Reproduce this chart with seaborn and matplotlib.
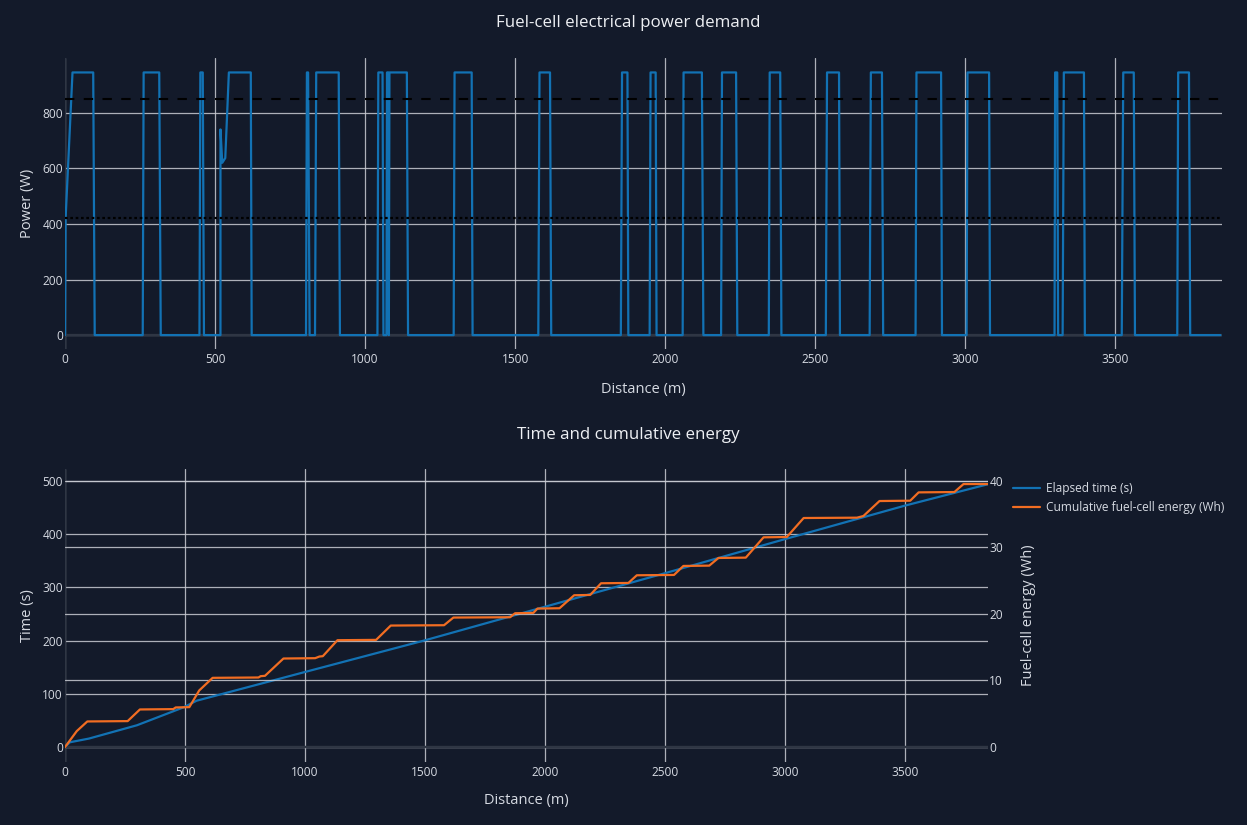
import matplotlib
matplotlib.use("Agg")
import matplotlib.pyplot as plt
from matplotlib.lines import Line2D
import seaborn as sns

# ---- data ----
# power demand trace (distance m, power W)
power_dist = [0, 2, 25, 94, 99,
              259, 262, 314, 319,
              448, 451, 459, 463,
              518, 518, 524, 534, 546, 619, 622,
              803, 806, 810, 815,
              833, 837, 912, 916,
              1041, 1044, 1058, 1061,
              1071, 1073, 1075, 1077, 1079, 1081, 1139, 1143,
              1295, 1298, 1355, 1358,
              1577, 1581, 1616, 1620,
              1852, 1856, 1874, 1877,
              1948, 1951, 1968, 1971,
              2058, 2061, 2122, 2127,
              2186, 2189, 2236, 2240,
              2345, 2348, 2383, 2387,
              2535, 2539, 2579, 2582,
              2681, 2685, 2722, 2726,
              2834, 2837, 2919, 2922,
              3004, 3007, 3079, 3082,
              3297, 3299, 3306, 3309,
              3324, 3328, 3395, 3398,
              3521, 3526, 3561, 3565,
              3706, 3709, 3745, 3749,
              3850]
power_w = [0, 420, 945, 945, 0,
           0, 945, 945, 0,
           0, 945, 945, 0,
           0, 740, 620, 637, 945, 945, 0,
           0, 945, 945, 0,
           0, 945, 945, 0,
           0, 945, 945, 0,
           0, 945, 390, 945, 0, 945, 945, 0,
           0, 945, 945, 0,
           0, 945, 945, 0,
           0, 945, 945, 0,
           0, 945, 945, 0,
           0, 945, 945, 0,
           0, 945, 945, 0,
           0, 945, 945, 0,
           0, 945, 945, 0,
           0, 945, 945, 0,
           0, 945, 945, 0,
           0, 945, 945, 0,
           0, 945, 945, 0,
           0, 945, 945, 0,
           0, 945, 945, 0,
           0, 945, 945, 0,
           0]
upper_limit_w = 850
lower_limit_w = 420

# elapsed time (distance m, time s)
time_dist = [0, 20, 100, 300, 496, 548, 1000, 1496, 1996, 2496, 2996, 3497, 3850]
time_s = [0, 9, 16, 41, 75, 87, 141, 200, 263, 326, 390, 453, 494]

# cumulative fuel-cell energy (distance m, Wh)
energy_dist = [0, 49, 93, 261, 312, 451, 461, 518, 559, 615, 806, 815, 833, 910,
               1042, 1060, 1074, 1135, 1296, 1357, 1579, 1618, 1854, 1875, 1951,
               1968, 2060, 2121, 2188, 2233, 2347, 2382, 2537, 2576, 2684, 2722,
               2836, 2910, 3007, 3077, 3299, 3326, 3393, 3521, 3556, 3705, 3743,
               3850]
energy_wh = [0, 2.4, 3.85, 3.9, 5.65, 5.7, 5.95, 6.0, 8.5, 10.4, 10.45, 10.65, 10.7, 13.3,
             13.35, 13.6, 13.65, 16.05, 16.1, 18.25, 18.3, 19.45, 19.5, 20.1, 20.15,
             20.8, 20.85, 22.8, 22.85, 24.6, 24.65, 25.8, 25.85, 27.2, 27.25, 28.4,
             28.45, 31.5, 31.55, 34.4, 34.45, 34.7, 36.95, 37.0, 38.25, 38.3, 39.5,
             39.5]

# ---- style ----
BG = "#131a2a"
TXT = "#d6dae2"
GRID = "#c9ccd3"
ZERO = "#2f3644"
BLUE = "#1272b4"
ORANGE = "#f26d22"

sns.set_theme(style="dark", rc={
    "figure.facecolor": BG,
    "axes.facecolor": BG,
    "axes.edgecolor": BG,
    "text.color": TXT,
    "axes.labelcolor": TXT,
    "xtick.color": TXT,
    "ytick.color": TXT,
})
plt.rcParams["font.family"] = ["Open Sans", "DejaVu Sans"]

W, H = 1247, 825
fig = plt.figure(figsize=(W / 100, H / 100), dpi=100)


def frac(left, top, right, bottom):
    return [left / W, 1 - bottom / H, (right - left) / W, (bottom - top) / H]


def style_axes(ax):
    for s in ax.spines.values():
        s.set_visible(False)
    ax.tick_params(axis="both", length=0, labelsize=8.6)
    ax.tick_params(axis="x", pad=3.2)
    ax.tick_params(axis="y", pad=1.5)
    ax.grid(True, color=GRID, linewidth=0.9, alpha=0.85)
    ax.set_axisbelow(True)


# ---- top: power demand ----
ax1 = fig.add_axes(frac(65, 58, 1222, 349))
style_axes(ax1)
ax1.axhline(0, color=ZERO, lw=1.6, zorder=1)
ax1.axvline(0, color=ZERO, lw=1.6, zorder=1)
sns.lineplot(x=power_dist, y=power_w, ax=ax1, estimator=None, sort=False,
             color=BLUE, linewidth=1.6, zorder=3)
ax1.axhline(upper_limit_w, color="black", lw=1.5, dashes=(4.5, 4.5), zorder=4)
ax1.axhline(lower_limit_w, color="black", lw=1.6, dashes=(1.2, 1.2), zorder=4)
ax1.set_xlim(0, 3855)
ax1.set_ylim(-50, 997)
ax1.set_xticks(range(0, 4000, 500))
ax1.set_yticks(range(0, 1000, 200))
ax1.set_xlabel("Distance (m)", fontsize=10.5)
ax1.set_ylabel("Power (W)", fontsize=10.5)
ax1.xaxis.set_label_coords(0.5, -0.113)
ax1.yaxis.set_label_coords(-0.026, 0.5)
fig.text(628 / W, 1 - 23 / H, "Fuel-cell electrical power demand",
         ha="center", va="center", fontsize=12.2, color="#eef0f4")

# ---- bottom: time and cumulative energy ----
ax_b = fig.add_axes(frac(65, 469, 988, 762))
style_axes(ax_b)
ax2 = ax_b.twinx()
style_axes(ax2)
ax2.tick_params(axis="y", pad=1.0)
ax_b.axhline(0, color=ZERO, lw=1.6, zorder=1)
ax_b.axvline(0, color=ZERO, lw=1.6, zorder=1)
sns.lineplot(x=time_dist, y=time_s, ax=ax_b, estimator=None, sort=False,
             color=BLUE, linewidth=1.6, zorder=3)
sns.lineplot(x=energy_dist, y=energy_wh, ax=ax2, estimator=None, sort=False,
             color=ORANGE, linewidth=1.6, zorder=3)
ax2.axhline(0, color=ZERO, lw=1.6, zorder=1)
ax_b.set_xlim(0, 3845)
ax_b.set_ylim(-28, 522)
ax2.set_ylim(-28 / 12.5, 522 / 12.5)
ax_b.set_xticks(range(0, 4000, 500))
ax_b.set_yticks(range(0, 600, 100))
ax2.set_yticks(range(0, 50, 10))
ax2.grid(True, axis="y", color=GRID, linewidth=0.9, alpha=0.85)
ax2.grid(False, axis="x")
ax_b.set_xlabel("Distance (m)", fontsize=10.5)
ax_b.set_ylabel("Time (s)", fontsize=10.5)
ax2.set_ylabel("Fuel-cell energy (Wh)", fontsize=10.5)
ax_b.xaxis.set_label_coords(0.5, -0.107)
ax_b.yaxis.set_label_coords(-0.0326, 0.5)
ax2.yaxis.set_label_coords(1.036, 0.5)
fig.text(628 / W, 1 - 435 / H, "Time and cumulative energy",
         ha="center", va="center", fontsize=12.2, color="#eef0f4")

handles = [Line2D([], [], color=BLUE, lw=1.6), Line2D([], [], color=ORANGE, lw=1.6)]
fig.legend(handles, ["Elapsed time (s)", "Cumulative fuel-cell energy (Wh)"],
           loc="upper left", bbox_to_anchor=(1002 / W, 1 - 471 / H),
           frameon=False, fontsize=8.6, handlelength=2.3, handletextpad=0.5,
           labelspacing=0.55, labelcolor=TXT)

fig.savefig("out.png", dpi=100, facecolor=BG)
